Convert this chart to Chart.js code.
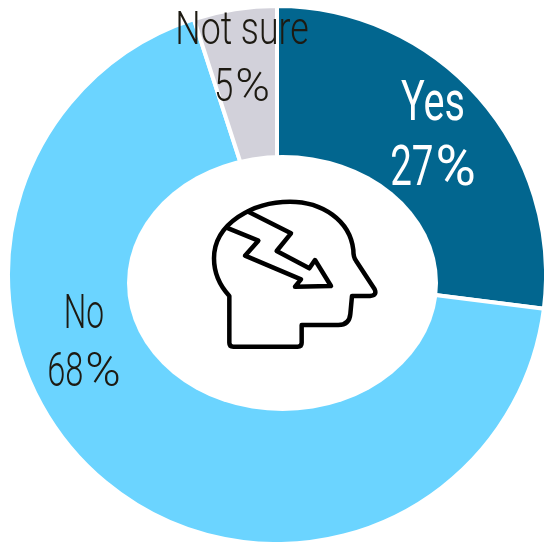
<!DOCTYPE html>
<html>
<head>
<meta charset="utf-8">
<style>
  html, body { margin: 0; padding: 0; background: #fff; }
  #wrap { position: relative; width: 544px; height: 542px; }
</style>
<script src="https://cdn.jsdelivr.net/npm/chart.js@4/dist/chart.umd.min.js"></script>
</head>
<body>
<div id="wrap"><canvas id="chart"></canvas></div>
<script>
// Survey answers, in percent
const categories = ["Yes", "No", "Not sure"];
const shares = [27, 68, 5];
const sliceColors = ["#02668F", "#6BD4FF", "#D2D1DA"];

// Where each two-line label sits: centre x, the two baselines, and type settings
const labelLayout = [
  { x: 433, base: [120, 185], size: 55, nameSqueeze: 0.72, numSqueeze: 0.7, color: "#FFFFFF", weight: 400 },
  { x: 84,  base: [328, 386], size: 48, nameSqueeze: 0.66, numSqueeze: 0.68, color: "#1D1A12", weight: 300 },
  { x: 242, base: [44, 101],  size: 47, nameSqueeze: 0.76, numSqueeze: 0.74, color: "#1D1A12", weight: 300 }
];

// White elliptical hole in the middle of the ring
const holePlugin = {
  id: "hole",
  afterDatasetsDraw(chart) {
    const ctx = chart.ctx;
    ctx.save();
    ctx.fillStyle = "#FFFFFF";
    ctx.beginPath();
    ctx.ellipse(282.5, 283, 155.5, 128, 0, 0, Math.PI * 2);
    ctx.fill();
    ctx.restore();
  }
};

// Head-with-lightning icon, outlined on a 3x grid
const iconPlugin = {
  id: "icon",
  afterDatasetsDraw(chart) {
    const ctx = chart.ctx;
    const head = new Path2D(
      "M118 318 L118 458 Q118 470 130 470 L323 470 Q335 470 335 458 L335 405 " +
      "L445 405 Q478 405 481 372 L486 318 L540 318 Q562 316 554 298 L498 212 " +
      "Q490 202 490 180 C480 90 395 35 300 35 C190 35 72 100 72 205 " +
      "C72 250 92 290 118 318 Z"
    );
    const bolt = new Path2D(
      "M175 65 L303 130 L260 183 L358 235 L375 210 L423 288 L315 290 L333 268 " +
      "L165 197 L205 152 L115 115"
    );
    ctx.save();
    ctx.translate(190, 190);
    ctx.scale(1 / 3, 1 / 3);
    ctx.strokeStyle = "#000000";
    ctx.lineWidth = 13.5;
    ctx.lineJoin = "round";
    ctx.lineCap = "round";
    ctx.stroke(head);
    ctx.stroke(bolt);
    ctx.restore();
  }
};

// Writes runs of text side by side, each narrowed by its own factor, centred on x
function drawRuns(ctx, runs, x, y, gap) {
  const widths = runs.map(r => ctx.measureText(r.text).width * r.squeeze);
  const total = widths.reduce((a, b) => a + b, 0) + gap * (runs.length - 1);
  let left = x - total / 2;
  runs.forEach((r, i) => {
    ctx.save();
    ctx.translate(left, y);
    ctx.scale(r.squeeze, 1);
    ctx.fillText(r.text, 0, 0);
    ctx.restore();
    left += widths[i] + gap;
  });
}

// Category name and share, stacked, with a full-width percent sign
const labelPlugin = {
  id: "sliceLabels",
  afterDraw(chart) {
    const ctx = chart.ctx;
    categories.forEach((name, i) => {
      const spot = labelLayout[i];
      ctx.save();
      ctx.fillStyle = spot.color;
      ctx.font = spot.weight + " " + spot.size + "px Roboto";
      ctx.textAlign = "left";
      ctx.textBaseline = "alphabetic";
      drawRuns(ctx, [{ text: name, squeeze: spot.nameSqueeze }], spot.x, spot.base[0], 0);
      drawRuns(ctx, [
        { text: String(shares[i]), squeeze: spot.numSqueeze },
        { text: "%", squeeze: 1 }
      ], spot.x, spot.base[1], 2);
      ctx.restore();
    });
  }
};

new Chart(document.getElementById("chart"), {
  type: "doughnut",
  data: {
    labels: categories,
    datasets: [{
      data: shares,
      backgroundColor: sliceColors,
      borderColor: "#FFFFFF",
      borderWidth: 4
    }]
  },
  options: {
    responsive: true,
    maintainAspectRatio: false,
    animation: false,
    cutout: "40%",
    radius: 269,
    layout: { padding: { left: 10, top: 8, right: 0, bottom: 0 } },
    plugins: { legend: { display: false }, tooltip: { enabled: false } }
  },
  plugins: [holePlugin, iconPlugin, labelPlugin]
});
</script>
</body>
</html>
